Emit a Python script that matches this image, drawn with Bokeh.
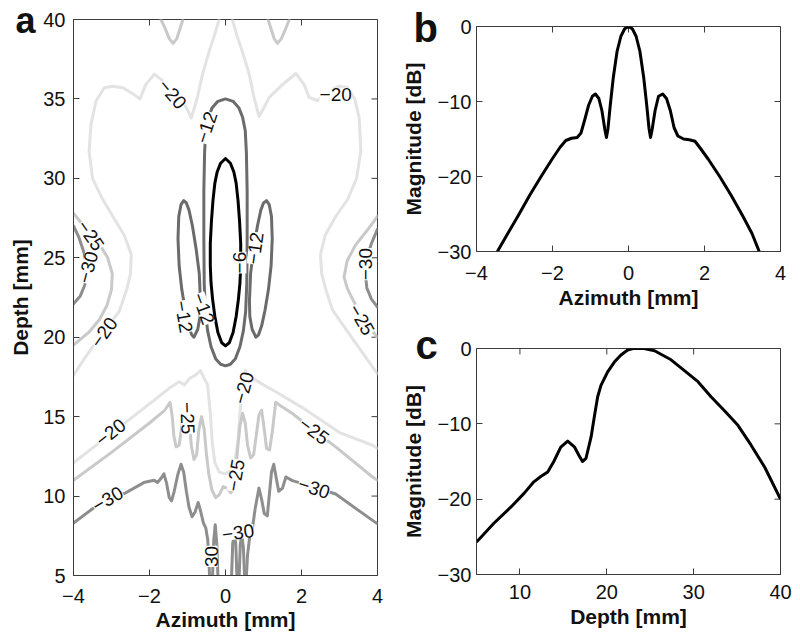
from bokeh.plotting import figure
from bokeh.layouts import row, column
from bokeh.models import LabelSet, FixedTicker, Range1d, ColumnDataSource
from bokeh.core.properties import value
from bokeh.embed import file_html
from bokeh.resources import INLINE

FONT = "Liberation Sans"
MINUS = "\u2212"

# ---------------- tick values ----------------
a_xticks = [-4, -2, 0, 2, 4]
a_yticks = [5, 10, 15, 20, 25, 30, 35, 40]
b_xticks = [-4, -2, 0, 2, 4]
b_yticks = [-30, -20, -10, 0]
c_xticks = [10, 20, 30, 40]
c_yticks = [-30, -20, -10, 0]

# ---------------- panel a : contour lines ----------------
# -6 dB
c6_x = [0.00, 0.13, 0.22, 0.28, 0.33, 0.37, 0.40, 0.40, 0.38, 0.34, 0.28, 0.20, 0.10, 0.00,
        -0.10, -0.20, -0.28, -0.34, -0.38, -0.40, -0.40, -0.37, -0.33, -0.28, -0.22, -0.13, 0.00]
c6_y = [31.25, 30.95, 30.4, 29.7, 28.6, 27.3, 25.9, 24.5, 23.4, 22.4, 21.3, 20.3, 19.65, 19.45,
        19.65, 20.3, 21.3, 22.4, 23.4, 24.5, 25.9, 27.3, 28.6, 29.7, 30.4, 30.95, 31.25]

# -12 dB
c12_main_x = [0.00, 0.20, 0.35, 0.45, 0.52, 0.55, 0.57, 0.57, 0.56, 0.53, 0.47, 0.38, 0.26, 0.13, 0.00,
              -0.13, -0.26, -0.38, -0.47, -0.53, -0.56, -0.57, -0.57, -0.55, -0.52, -0.45, -0.35, -0.20, 0.00]
c12_main_y = [35.0, 34.85, 34.45, 33.85, 33.0, 31.6, 29.2, 26.2, 23.4, 21.6, 20.4, 19.4, 18.65, 18.3, 18.2,
              18.3, 18.65, 19.4, 20.4, 21.6, 23.4, 26.2, 29.2, 31.6, 33.0, 33.85, 34.45, 34.85, 35.0]
c12_right_x = [0.80, 0.70, 0.64, 0.63, 0.66, 0.74, 0.84, 0.93, 1.00, 1.08, 1.15, 1.21, 1.23, 1.20, 1.13, 1.04, 0.95, 0.87, 0.80]
c12_right_y = [20.0, 20.5, 21.3, 22.3, 24.0, 25.5, 27.0, 28.0, 28.45, 28.6, 28.35, 27.6, 26.2, 24.5, 23.0, 21.7, 20.7, 20.15, 20.0]
c12_left_x = [-0.83, -0.73, -0.67, -0.66, -0.69, -0.77, -0.87, -0.96, -1.03, -1.10, -1.17, -1.23, -1.25, -1.22, -1.15, -1.06, -0.97, -0.89, -0.83]
c12_left_y = [20.0, 20.5, 21.3, 22.3, 24.0, 25.5, 27.0, 28.0, 28.45, 28.6, 28.35, 27.6, 26.2, 24.5, 23.0, 21.7, 20.7, 20.15, 20.0]

# -20 dB
c20_upR_x = [0.18, 0.30, 0.44, 0.62, 0.75, 0.88, 1.00, 1.15, 1.50, 1.85, 2.07, 2.20, 2.42, 2.70, 3.00, 3.22, 3.40,
             3.52, 3.56, 3.45, 3.22, 2.90, 2.62, 2.50, 2.53, 2.64, 2.82, 3.26, 3.70, 4.00]
c20_upR_y = [40.0, 39.0, 38.0, 36.6, 35.1, 33.9, 34.4, 35.1, 35.9, 36.6, 35.9, 35.1, 34.9, 35.5, 35.8, 35.7, 35.0,
             33.8, 31.7, 30.0, 28.7, 27.6, 26.4, 25.2, 24.0, 23.0, 21.7, 20.2, 18.7, 17.7]
c20_upL_x = [-0.17, -0.29, -0.43, -0.60, -0.74, -0.90, -1.02, -1.17, -1.52, -1.87, -2.10, -2.25, -2.42, -2.70, -2.97, -3.19, -3.41,
             -3.54, -3.59, -3.50, -3.26, -2.94, -2.66, -2.48, -2.50, -2.60, -2.80, -3.26, -3.70, -4.00]
c20_upL_y = [40.0, 39.0, 38.0, 36.6, 35.1, 33.8, 34.4, 35.1, 35.9, 36.56, 35.9, 35.0, 35.3, 35.7, 35.8, 35.7, 34.85,
             33.4, 31.7, 30.0, 28.8, 27.5, 26.4, 25.2, 24.0, 23.0, 21.6, 20.2, 18.7, 17.6]
c20_low_x = [-4.00, -3.00, -2.00, -1.50, -1.22, -1.08, -0.95, -0.80, -0.66, -0.56, -0.47, -0.40, -0.35, -0.28, -0.16, 0.00,
             0.14, 0.26, 0.33, 0.38, 0.45, 0.53, 0.63, 0.80, 1.00, 1.30, 2.00, 3.00, 3.87, 4.00]
c20_low_y = [12.1, 13.95, 15.8, 16.75, 17.2, 17.0, 17.4, 17.6, 17.9, 17.4, 17.0, 15.2, 13.4, 12.1, 11.5, 11.4,
             11.6, 12.3, 13.6, 15.2, 16.9, 17.9, 17.5, 17.3, 17.0, 16.6, 15.6, 14.0, 13.2, 13.0]

# -25 dB
c25_dipL_x = [-1.70, -1.60, -1.48, -1.38, -1.28, -1.20, -1.12]
c25_dipL_y = [40.0, 39.5, 38.8, 38.5, 38.8, 39.4, 40.0]
c25_dipR_x = [1.12, 1.20, 1.28, 1.37, 1.47, 1.58, 1.68]
c25_dipR_y = [40.0, 39.4, 38.8, 38.5, 38.8, 39.4, 40.0]
c25_sideL_x = [-4.00, -3.70, -3.35, -3.10, -2.98, -3.00, -3.12, -3.32, -3.60, -4.00]
c25_sideL_y = [27.8, 26.9, 26.0, 25.0, 24.0, 23.0, 22.0, 21.1, 20.3, 19.5]
c25_sideR_x = [4.00, 3.72, 3.42, 3.20, 3.12, 3.20, 3.30, 3.50, 3.72, 4.00]
c25_sideR_y = [27.6, 26.7, 25.8, 24.8, 23.8, 23.1, 22.6, 21.7, 20.8, 20.0]
c25_low_x = [-4.00, -3.00, -2.00, -1.60, -1.46, -1.40, -1.36, -1.30, -1.22, -1.15, -1.08, -1.00, -0.95, -0.90, -0.83,
             -0.76, -0.70, -0.63, -0.56, -0.50, -0.44, -0.36, -0.26, -0.16, -0.06, 0.04, 0.14, 0.22, 0.27, 0.32,
             0.38, 0.45, 0.52, 0.58, 0.66, 0.74, 0.82, 0.88, 0.95, 1.02, 1.08, 1.16, 1.24, 1.32, 1.50, 1.76,
             2.33, 2.90, 3.87, 4.00]
c25_low_y = [11.0, 12.75, 14.6, 15.4, 15.9, 15.0, 13.8, 13.1, 13.2, 14.4, 15.5, 15.6, 14.6, 13.2, 12.3,
             12.6, 14.2, 15.0, 14.2, 12.6, 11.4, 10.4, 9.9, 10.1, 10.6, 10.5, 10.2, 10.6, 11.6, 13.0,
             14.4, 15.2, 14.6, 13.2, 12.4, 12.6, 14.0, 15.1, 15.4, 14.2, 13.0, 12.9, 14.2, 15.9, 15.6, 15.2,
             14.13, 13.1, 11.2, 11.0]

# -30 dB
c30_sideL_x = [-4.00, -3.86, -3.72, -3.66, -3.70, -3.82, -4.00]
c30_sideL_y = [27.0, 26.3, 25.3, 24.3, 23.3, 22.6, 22.1]
c30_sideR_x = [4.00, 3.84, 3.72, 3.68, 3.72, 3.84, 4.00]
c30_sideR_y = [26.8, 25.9, 25.0, 24.0, 23.1, 22.4, 21.9]
c30_lowL_x = [-4.00, -3.50, -3.10, -2.67, -2.15, -1.88, -1.79, -1.70, -1.62, -1.55, -1.48, -1.42, -1.35, -1.25,
              -1.17, -1.10, -1.03, -0.96, -0.88, -0.80, -0.72, -0.66, -0.58, -0.52, -0.47, -0.44, -0.42]
c30_lowL_y = [8.3, 9.2, 9.75, 10.15, 10.85, 11.0, 10.85, 11.1, 11.4, 10.8, 9.9, 9.7, 10.3, 11.4,
              12.0, 11.5, 10.3, 9.3, 8.7, 9.0, 9.6, 9.1, 8.3, 8.0, 7.3, 6.2, 5.0]
c30_lowR_x = [0.55, 0.58, 0.64, 0.71, 0.78, 0.88, 0.95, 1.02, 1.10, 1.15, 1.21, 1.27, 1.33, 1.40, 1.50, 1.59,
              1.76, 2.33, 2.90, 3.50, 4.00]
c30_lowR_y = [5.0, 6.3, 7.5, 8.0, 9.2, 10.5, 9.8, 8.9, 8.75, 10.0, 11.5, 12.0, 11.2, 10.3, 10.5, 11.2,
              10.97, 10.56, 10.13, 9.1, 8.25]
c30_spk1_x = [-0.34, -0.31, -0.27, -0.23, -0.20]
c30_spk1_y = [5.0, 7.2, 8.2, 7.0, 5.0]
c30_spk2_x = [0.16, 0.19, 0.23, 0.27, 0.30]
c30_spk2_y = [5.0, 7.0, 7.6, 7.0, 5.0]
c30_spk3_x = [0.36, 0.39, 0.43, 0.47, 0.50]
c30_spk3_y = [5.0, 7.0, 7.5, 6.8, 5.0]

# contour labels
lab_text = ["\u22126", "\u221212", "\u221212", "\u221212", "\u221212", "\u221220", "\u221220", "\u221225", "\u221230",
            "\u221230", "\u221225", "\u221220", "\u221220", "\u221225", "\u221220", "\u221225", "\u221225",
            "\u221230", "\u221230", "\u221230", "30"]
lab_x = [0.38, 0.78, -0.50, -1.10, -0.58, -1.40, 2.90, -3.55, -3.62, 3.68, 3.58, -3.20, -3.02, -1.00, 0.48,
         2.33, 0.27, -3.10, 2.33, 0.33, -0.38]
lab_y = [24.7, 25.6, 33.2, 21.3, 21.8, 35.3, 35.3, 26.4, 24.4, 24.6, 21.1, 20.3, 14.0, 14.9, 16.8,
         14.1, 11.3, 9.8, 10.5, 7.7, 6.2]
lab_angle = [90, 82, 72, -80, -70, -50, 0, -55, 75, 90, -60, 55, 38, -88, 75, -37, 80, 30, -18, 8, 90]

# ---------------- panel b : azimuth profile ----------------
b_x = [-3.45, -3.20, -2.90, -2.60, -2.30, -2.00, -1.80, -1.65, -1.50, -1.35, -1.25, -1.15, -1.05, -0.95, -0.87,
       -0.78, -0.70, -0.62, -0.58, -0.54, -0.48, -0.40, -0.30, -0.20, -0.10, 0.00, 0.10, 0.20, 0.30, 0.40,
       0.48, 0.54, 0.58, 0.62, 0.70, 0.79, 0.90, 1.00, 1.10, 1.20, 1.30, 1.45, 1.60, 1.75, 1.90, 2.10,
       2.40, 2.70, 3.00, 3.25, 3.44]
b_y = [-30.0, -27.8, -25.2, -22.5, -20.0, -17.6, -16.1, -15.2, -14.9, -14.8, -14.2, -12.4, -10.5, -9.3, -9.0,
       -9.6, -11.2, -13.8, -14.8, -13.6, -10.5, -6.8, -3.3, -1.3, -0.3, 0.0, -0.3, -1.3, -3.3, -6.8,
       -10.5, -13.6, -14.8, -13.8, -11.2, -9.3, -9.0, -9.6, -11.2, -13.5, -14.6, -15.0, -15.1, -15.3, -16.3, -17.7,
       -20.0, -22.5, -25.2, -27.6, -30.0]

# ---------------- panel c : depth profile ----------------
c_x = [5.0, 7.0, 9.0, 10.5, 11.6, 12.4, 13.2, 13.9, 14.7, 15.5, 16.3, 16.8, 17.2, 17.6, 18.2, 18.56, 18.95,
       19.33, 20.1, 20.87, 21.6, 22.4, 23.0, 24.3, 25.5, 27.4, 28.9, 30.5, 32.0, 33.5, 35.1, 36.6, 38.2, 40.0]
c_y = [-25.7, -23.2, -21.0, -19.2, -17.7, -17.0, -16.4, -15.0, -13.1, -12.3, -13.1, -14.2, -15.0, -14.6, -11.7,
       -9.1, -6.4, -4.9, -3.1, -1.8, -0.9, -0.2, 0.0, 0.0, -0.3, -1.5, -2.9, -4.4, -6.4, -8.2, -10.2, -12.8,
       -15.8, -20.0]

# ---------------- styling helpers ----------------
AX = "#3c3c3c"
C6, C12, C20, C25, C30 = "#000000", "#6b6b6b", "#e3e3e3", "#c9c9c9", "#8e8e8e"


def fmt(v):
    return str(v).replace("-", MINUS)


def make_fig(xr, yr, fw, fh, bl, bt, br, bb, xt, yt, xlabel, ylabel, x_std, xl_std, y_std, yl_std,
             letter, letter_size, letter_offset, letter_standoff):
    p = figure(x_range=Range1d(*xr), y_range=Range1d(*yr), frame_width=fw, frame_height=fh,
               min_border_left=bl, min_border_top=bt, min_border_right=br, min_border_bottom=bb,
               output_backend="svg", toolbar_location=None)
    p.grid.visible = False
    p.outline_line_color = AX
    p.outline_line_width = 1
    p.background_fill_color = "white"
    p.border_fill_color = "white"
    for ax, ticks in ((p.xaxis[0], xt), (p.yaxis[0], yt)):
        ax.ticker = FixedTicker(ticks=ticks)
        ax.major_label_overrides = {t: fmt(t) for t in ticks}
        ax.major_tick_in = 6
        ax.major_tick_out = 0
        ax.minor_tick_in = 0
        ax.minor_tick_out = 0
        ax.axis_line_color = AX
        ax.major_tick_line_color = AX
        ax.major_label_text_font = FONT
        ax.major_label_text_font_size = "20px"
        ax.major_label_text_color = "#111111"
        ax.axis_label_text_font = FONT
        ax.axis_label_text_font_size = "21px"
        ax.axis_label_text_font_style = "bold"
        ax.axis_label_text_color = "#111111"
    p.xaxis.axis_label = xlabel
    p.yaxis.axis_label = ylabel
    p.xaxis.major_label_standoff = x_std
    p.xaxis.axis_label_standoff = xl_std
    p.yaxis.major_label_standoff = y_std
    p.yaxis.axis_label_standoff = yl_std
    # inward tick marks on the top and right edges of the box
    top = [yr[1]] * len(xt)
    right = [xr[1]] * len(yt)
    p.ray(x=xt, y=top, length=6, length_units="screen", angle=-90, angle_units="deg",
          line_color=AX, line_width=1)
    p.ray(x=right, y=yt, length=6, length_units="screen", angle=180, angle_units="deg",
          line_color=AX, line_width=1)
    # panel letter (title pulled down beside the top of the y axis)
    p.title.text = letter
    p.title.align = "left"
    p.title.vertical_align = "bottom"
    p.title.offset = letter_offset
    p.title.standoff = letter_standoff
    p.title.text_font = FONT
    p.title.text_font_size = letter_size
    p.title.text_font_style = "bold"
    p.title.text_color = "#111111"
    return p


# ---------------- panel a ----------------
pa = make_fig((-4, 4), (5, 40), 304, 556, 73, 19, 21, 55, a_xticks, a_yticks,
              "Azimuth [mm]", "Depth [mm]", 13, 2, 8, 8, "a", "36px", -58, -42)

levels = [
    (C20, [c20_upR_x, c20_upL_x, c20_low_x], [c20_upR_y, c20_upL_y, c20_low_y]),
    (C25, [c25_dipL_x, c25_dipR_x, c25_sideL_x, c25_sideR_x, c25_low_x],
          [c25_dipL_y, c25_dipR_y, c25_sideL_y, c25_sideR_y, c25_low_y]),
    (C30, [c30_sideL_x, c30_sideR_x, c30_lowL_x, c30_lowR_x, c30_spk1_x, c30_spk2_x, c30_spk3_x],
          [c30_sideL_y, c30_sideR_y, c30_lowL_y, c30_lowR_y, c30_spk1_y, c30_spk2_y, c30_spk3_y]),
    (C12, [c12_main_x, c12_right_x, c12_left_x], [c12_main_y, c12_right_y, c12_left_y]),
    (C6, [c6_x], [c6_y]),
]
for color, xs, ys in levels:
    src = ColumnDataSource(dict(xs=xs, ys=ys))
    pa.multi_line(xs="xs", ys="ys", source=src, line_color=color, line_width=3,
                  line_join="round", line_cap="round")

lab_src = ColumnDataSource(dict(x=lab_x, y=lab_y, text=lab_text, angle=lab_angle))
pa.add_layout(LabelSet(x="x", y="y", text="text", angle="angle", angle_units="deg", source=lab_src,
                       text_align="center", text_baseline="middle", text_font=value(FONT),
                       text_font_size="19px", text_color="#111111",
                       background_fill_color="white", background_fill_alpha=1.0))

# ---------------- panel b ----------------
pb = make_fig((-4, 4), (-30, 0), 304, 225, 74, 26, 16, 70, b_xticks, b_yticks,
              "Azimuth [mm]", "Magnitude [dB]", 14, 3, 5, 10, "b", "40px", -63, -47)
pb.line(b_x, b_y, line_color="black", line_width=3, line_join="round")

# ---------------- panel c ----------------
pc = make_fig((5, 40), (-30, 0), 304, 226, 74, 27, 16, 55, c_xticks, c_yticks,
              "Depth [mm]", "Magnitude [dB]", 10, 3, 5, 10, "c", "40px", -61, -37)
pc.line(c_x, c_y, line_color="black", line_width=3, line_join="round")

layout = row(pa, column(pb, pc))
open("out.html", "w").write(file_html(layout, INLINE))
